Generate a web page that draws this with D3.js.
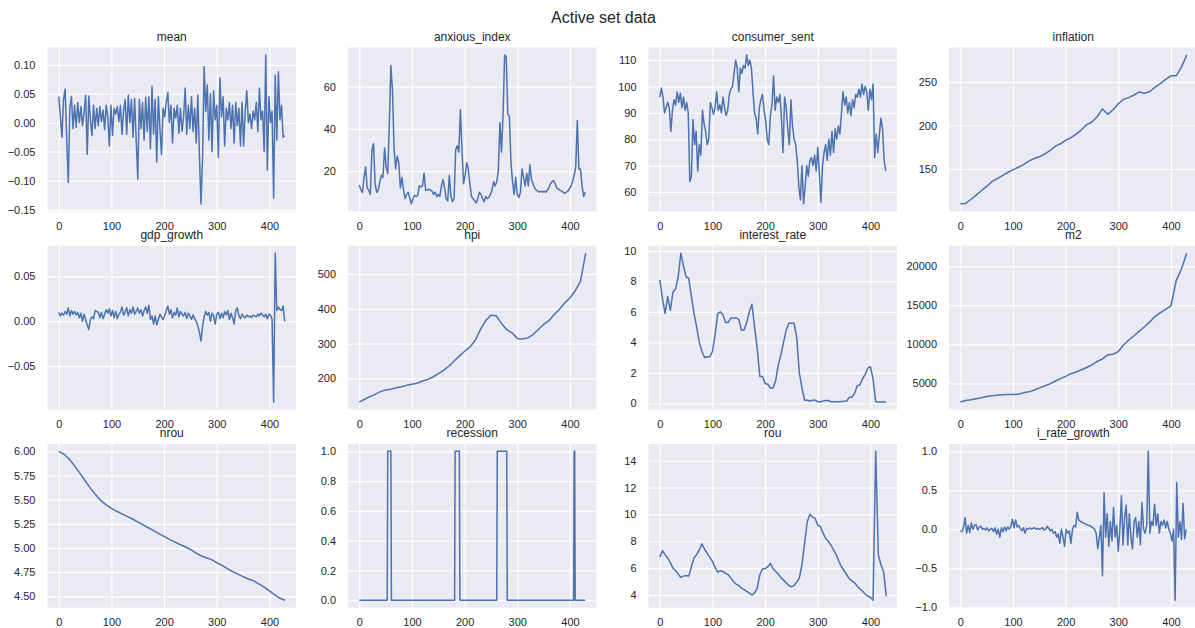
<!DOCTYPE html>
<html>
<head>
<meta charset="utf-8">
<script src="https://cdn.jsdelivr.net/npm/d3@7"></script>
<style>
  body { margin: 0; background: white; }
  svg { display: block; font-family: "Liberation Sans", Arial, sans-serif; }
</style>
</head>
<body>
<svg id="chart" width="1195" height="628"></svg>
<script>
// monthly series, 430 points (0..429); at a fixed step
const N_POINTS = 430;
const X_TICKS = [0, 100, 200, 300, 400];

// every 3rd point
const MEAN = [
  0.045, 0.010, -0.025, 0.040, 0.058, -0.028, -0.103, 0.025, 0.045, -0.010,
  0.030, -0.008, 0.035, 0.000, 0.028, -0.005, 0.018, 0.047, -0.055, 0.046,
  0.005, -0.022, 0.030, -0.010, 0.025, -0.005, 0.028, 0.002, 0.022, -0.012,
  0.030, 0.010, -0.040, 0.030, -0.022, 0.025, 0.015, 0.028, 0.002, 0.030,
  -0.020, 0.020, 0.040, -0.020, 0.048, 0.000, 0.040, -0.025, 0.042, -0.030,
  -0.097, 0.040, -0.010, 0.035, -0.030, 0.044, -0.015, 0.045, -0.045, 0.063,
  -0.020, 0.040, -0.068, 0.045, -0.010, -0.055, 0.025, 0.010, 0.035, 0.052,
  0.000, 0.030, -0.035, 0.025, 0.008, 0.030, -0.018, 0.025, -0.015, 0.010,
  0.060, -0.020, 0.030, -0.010, 0.045, -0.015, 0.025, -0.035, 0.048, -0.055,
  -0.140, -0.060, 0.097, 0.020, 0.065, -0.030, 0.050, -0.050, 0.055, 0.005,
  0.030, -0.060, 0.077, 0.010, 0.045, -0.040, 0.025, 0.005, 0.035, -0.010,
  0.030, -0.035, 0.035, -0.005, 0.025, -0.040, 0.035, -0.040, 0.020, 0.055,
  0.000, 0.015, -0.010, 0.020, 0.005, 0.035, -0.015, 0.060, 0.005, 0.020,
  -0.050, 0.117, -0.082, 0.045, 0.000, 0.020, -0.130, 0.082, -0.030, 0.088,
  0.005, 0.030, -0.025, -0.022
];

const ANXIOUS_INDEX = [
  13.5, 11, 10, 17, 22, 12, 11, 9, 30, 33,
  14, 10, 11, 15, 18, 17, 31, 22, 19, 42,
  70, 58, 31, 21, 27, 24, 12, 17, 11, 7,
  9, 10, 7, 4.5, 7, 8.5, 8, 8.5, 13, 12.5,
  13, 19, 11, 11, 11.5, 11, 10.5, 9, 10, 8,
  9, 8, 13, 16, 12, 7, 6, 18, 8, 5.5,
  7, 30, 32, 29, 49, 30, 14, 18, 24, 21,
  14, 8, 7, 6, 5, 7, 10, 9, 7, 5.5,
  8, 7, 7.5, 9, 11, 15, 13, 15, 20, 43,
  29, 47, 75, 74, 47, 46, 24, 15, 9, 17,
  9, 7.5, 10, 21, 17, 13, 19, 13, 23, 16,
  14, 12, 11, 10.5, 10, 10.5, 10, 10.5, 10, 11,
  12, 14, 15, 15.5, 14, 12, 11.5, 11, 10.5, 10,
  9.5, 10, 10.5, 11.5, 13, 15, 18, 22, 44, 21,
  21, 13, 8, 10
];

const CONSUMER_SENT = [
  96, 99.5, 96, 90, 92, 94, 92, 83, 91, 95,
  93, 98, 94, 97.5, 92, 96, 91, 94, 90, 64,
  66, 87.5, 78, 83, 68, 78, 74, 91, 86, 83,
  78, 80, 94, 92, 89.5, 92, 98, 91, 93, 90,
  96, 92, 89, 91, 97, 99, 100, 105, 110, 107,
  98, 107, 105, 108, 107, 112, 108, 110, 107, 98,
  90, 88, 82, 92, 95, 97, 91, 87, 80, 78,
  89, 93, 104, 91, 96, 94, 97, 88, 75, 96,
  92, 84, 78, 95, 85, 80, 78, 72, 62, 57,
  70, 55.5, 62, 70, 66, 72, 73, 70, 74, 68,
  77, 67, 56, 70, 75, 78, 72, 80, 74, 83,
  75, 84, 80, 85, 82, 90, 98, 93, 96, 90,
  94, 89, 95, 92, 97, 96, 99, 96, 101, 97,
  100, 98, 91, 99, 95, 101, 73, 82, 75, 82,
  88, 84, 72, 68
];

const GDP_GROWTH = [
  0.010, 0.006, 0.009, 0.007, 0.011, 0.008, 0.015, 0.006, 0.012, 0.008,
  0.011, 0.007, 0.010, 0.004, 0.009, 0.000, 0.008, 0.002, -0.004, -0.009,
  0.002, 0.005, 0.003, 0.012, 0.011, 0.010, 0.004, 0.010, 0.003, 0.008,
  0.013, 0.009, 0.014, 0.006, 0.012, 0.004, 0.011, 0.003, 0.008, 0.010,
  0.016, 0.007, 0.010, 0.015, 0.006, 0.013, 0.009, 0.016, 0.008, 0.011,
  0.015, 0.009, 0.013, 0.006, 0.012, 0.016, 0.009, 0.018, 0.002, 0.006,
  -0.003, 0.006, -0.004, 0.002, 0.008, 0.005, 0.002, 0.006, 0.012, 0.017,
  0.008, 0.013, 0.004, 0.010, 0.007, 0.015, 0.005, 0.011, 0.008, 0.006,
  0.010, 0.003, 0.009, 0.006, 0.002, 0.007, 0.003, 0.000, -0.005, -0.012,
  -0.022, -0.006, 0.005, 0.011, 0.007, 0.010, 0.000, 0.009, 0.006, -0.003,
  0.008, 0.010, 0.003, 0.009, 0.004, 0.011, 0.007, 0.012, 0.002, 0.009,
  0.004, -0.003, 0.012, 0.015, 0.006, 0.003, 0.008, 0.005, 0.004, 0.007,
  0.005, 0.006, 0.004, 0.007, 0.006, 0.005, 0.008, 0.006, 0.009, 0.007,
  0.005, 0.008, 0.003, 0.008, 0.007, 0.002, -0.090, 0.076, 0.012, 0.016,
  0.013, 0.012, 0.017, 0.000
];

const I_RATE_GROWTH = [
  -0.02, -0.03, 0.02, 0.15, -0.05, 0.05, -0.04, 0.08, 0.00, 0.05,
  0.06, -0.01, 0.03, 0.04, 0.00, 0.01, -0.01, 0.02, -0.02, 0.00,
  0.01, -0.03, 0.02, -0.06, 0.00, -0.10, 0.02, -0.03, 0.03, -0.02,
  0.03, 0.00, 0.04, 0.13, 0.02, 0.12, 0.03, 0.05, 0.01, -0.02,
  0.02, -0.05, 0.01, 0.00, 0.02, 0.00, 0.01, 0.02, 0.00, 0.01,
  0.00, 0.01, 0.02, -0.01, 0.00, 0.04, 0.01, -0.02, 0.00, -0.05,
  -0.03, -0.10, -0.06, -0.18, 0.00, -0.10, -0.22, 0.00, -0.05, -0.02,
  -0.18, 0.00, 0.05, 0.03, 0.22, 0.12, 0.10, 0.09, 0.08, 0.07,
  0.06, 0.05, 0.05, 0.03, 0.02, 0.00, -0.05, -0.25, -0.10, 0.05,
  -0.60, 0.47, -0.10, 0.20, -0.22, 0.10, -0.15, 0.28, -0.10, 0.05,
  -0.28, 0.00, 0.43, -0.20, 0.15, 0.31, -0.20, 0.20, -0.10, -0.25,
  0.10, 0.15, -0.10, 0.10, -0.20, 0.34, 0.00, -0.05, 0.05, 1.00,
  -0.05, 0.10, 0.05, 0.32, 0.05, 0.20, -0.05, 0.10, 0.05, 0.12,
  0.02, 0.10, 0.00, -0.05, -0.15, 0.00, -0.91, 0.60, -0.10, 0.10,
  -0.13, 0.33, -0.12, 0.00
];

// every 5th point
const INTEREST_RATE = [
  8.1, 6.9, 5.9, 7.0, 6.1, 7.3, 7.5, 8.3, 9.85, 9.0,
  8.3, 8.2, 7.0, 5.9, 5.0, 4.0, 3.4, 3.0, 3.05, 3.05,
  3.4, 4.5, 5.9, 6.0, 5.8, 5.3, 5.3, 5.6, 5.6, 5.6,
  5.5, 4.8, 4.8, 5.3, 6.0, 6.5, 5.0, 3.6, 1.75, 1.75,
  1.3, 1.25, 1.0, 1.0, 1.5, 2.5, 3.2, 4.0, 4.8, 5.25,
  5.25, 5.25, 4.3, 2.0, 1.0, 0.2, 0.2, 0.15, 0.2, 0.2,
  0.1, 0.1, 0.15, 0.18, 0.18, 0.1, 0.1, 0.1, 0.1, 0.12,
  0.13, 0.15, 0.4, 0.4, 0.65, 1.15, 1.2, 1.6, 1.9, 2.3,
  2.4, 1.6, 0.1, 0.08, 0.08, 0.08, 0.08
];

const ROU = [
  6.8, 7.3, 7.0, 6.75, 6.4, 6.0, 5.8, 5.55, 5.3, 5.4,
  5.45, 5.4, 6.1, 6.75, 7.0, 7.35, 7.8, 7.4, 7.1, 6.8,
  6.5, 6.05, 5.7, 5.8, 5.75, 5.6, 5.5, 5.25, 5.0, 4.8,
  4.7, 4.5, 4.4, 4.27, 4.15, 4.0, 4.15, 4.5, 5.5, 5.95,
  5.95, 6.1, 6.35, 5.95, 5.75, 5.55, 5.3, 5.1, 4.9, 4.7,
  4.6, 4.7, 4.95, 5.25, 6.25, 7.85, 9.45, 10.0, 9.8, 9.7,
  9.2, 9.1, 8.6, 8.2, 8.0, 7.7, 7.35, 7.0, 6.5, 6.1,
  5.8, 5.5, 5.2, 5.05, 4.9, 4.65, 4.45, 4.27, 4.07, 3.9,
  3.83, 3.6, 14.7, 7.0, 6.25, 5.75, 3.9
];

// every 10th point
const INFLATION = [
  110, 110.5, 115, 120, 125, 130, 135.5, 139, 142.5, 146,
  149, 152, 155, 159, 162, 164, 167, 171, 176, 179,
  183, 186, 190, 195, 201, 204, 210, 219, 213, 218,
  225, 230, 232, 235, 238.5, 237, 239, 244, 248, 253,
  257, 257, 267, 281
];

const HPI = [
  132, 140, 147.5, 154, 162, 166.5, 168.5, 173, 176, 180,
  183, 186, 192.5, 197, 204, 213.5, 223, 235, 250, 264,
  278, 290, 309, 340, 366, 381.5, 380, 358, 340, 331,
  315, 313.5, 316.5, 326, 340.5, 355, 366, 383.5, 398, 417,
  431, 452, 479, 560
];

const M2 = [
  2590, 2800, 2880, 3010, 3140, 3300, 3390, 3475, 3520, 3560,
  3560, 3600, 3770, 3900, 4110, 4410, 4660, 4920, 5260, 5600,
  5890, 6230, 6440, 6740, 7030, 7370, 7800, 8140, 8650, 8730,
  9070, 9920, 10550, 11100, 11700, 12250, 12880, 13600, 14070, 14490,
  14920, 18180, 19660, 21700
];

const NROU = [
  6.0, 5.97, 5.918, 5.85, 5.775, 5.696, 5.62, 5.55, 5.49, 5.446,
  5.41, 5.38, 5.354, 5.327, 5.30, 5.27, 5.24, 5.21, 5.18, 5.15,
  5.12, 5.09, 5.064, 5.037, 5.013, 4.985, 4.95, 4.92, 4.90, 4.88,
  4.85, 4.82, 4.787, 4.756, 4.73, 4.705, 4.68, 4.66, 4.63, 4.596,
  4.558, 4.517, 4.48, 4.46
];

// recession months (first, last)
const RECESSION_PERIODS = [[54, 60], [182, 190], [262, 280], [408, 409]];

const MEAN_TICKS = [-0.15, -0.10, -0.05, 0.00, 0.05, 0.10];
const ANXIOUS_TICKS = [20, 40, 60];
const CONSUMER_TICKS = [60, 70, 80, 90, 100, 110];
const INFLATION_TICKS = [150, 200, 250];
const GDP_TICKS = [-0.05, 0.00, 0.05];
const HPI_TICKS = [200, 300, 400, 500];
const INTEREST_TICKS = [0, 2, 4, 6, 8, 10];
const M2_TICKS = [5000, 10000, 15000, 20000];
const NROU_TICKS = [4.50, 4.75, 5.00, 5.25, 5.50, 5.75, 6.00];
const RECESSION_TICKS = [0.0, 0.2, 0.4, 0.6, 0.8, 1.0];
const ROU_TICKS = [4, 6, 8, 10, 12, 14];
const I_RATE_TICKS = [-1.0, -0.5, 0.0, 0.5, 1.0];

var recession = d3.range(N_POINTS).map(function(i) {
  return RECESSION_PERIODS.some(function(p) { return i >= p[0] && i <= p[1]; }) ? 1 : 0;
});

var panels = [
  {title: "mean", values: MEAN, step: 3, ticks: MEAN_TICKS, fmt: ".2f"},
  {title: "anxious_index", values: ANXIOUS_INDEX, step: 3, ticks: ANXIOUS_TICKS, fmt: "d"},
  {title: "consumer_sent", values: CONSUMER_SENT, step: 3, ticks: CONSUMER_TICKS, fmt: "d"},
  {title: "inflation", values: INFLATION, step: 10, ticks: INFLATION_TICKS, fmt: "d"},
  {title: "gdp_growth", values: GDP_GROWTH, step: 3, ticks: GDP_TICKS, fmt: ".2f"},
  {title: "hpi", values: HPI, step: 10, ticks: HPI_TICKS, fmt: "d"},
  {title: "interest_rate", values: INTEREST_RATE, step: 5, ticks: INTEREST_TICKS, fmt: "d"},
  {title: "m2", values: M2, step: 10, ticks: M2_TICKS, fmt: "d"},
  {title: "nrou", values: NROU, step: 10, ticks: NROU_TICKS, fmt: ".2f"},
  {title: "recession", values: recession, step: 1, ticks: RECESSION_TICKS, fmt: ".1f"},
  {title: "rou", values: ROU, step: 5, ticks: ROU_TICKS, fmt: "d"},
  {title: "i_rate_growth", values: I_RATE_GROWTH, step: 3, ticks: I_RATE_TICKS, fmt: ".1f"}
];

var svg = d3.select("#chart");

var margin = {left: 47.5, top: 47.5};
var colStep = 300.5, rowStep = 198.2;
var plotW = 248.5, plotH = 163.8;

svg.append("text")
  .attr("x", 603.5)
  .attr("y", 22.5)
  .attr("text-anchor", "middle")
  .style("font-size", "16px")
  .style("fill", "#262626")
  .text("Active set data");

function drawPanel(p, k)
{
  var left = margin.left + (k % 4) * colStep;
  var top = margin.top + Math.floor(k / 4) * rowStep;

  var pts = p.values.map(function(v, i) { return [i * p.step, v]; });
  var ext = d3.extent(pts, function(d) { return d[1]; });
  var pad = (ext[1] - ext[0]) * 0.05;
  var last = N_POINTS - 1;

  var x = d3.scaleLinear()
    .domain([-0.05 * last, last * 1.05])
    .range([left, left + plotW]);
  var y = d3.scaleLinear()
    .domain([ext[0] - pad, ext[1] + pad])
    .range([top + plotH, top]);

  var g = svg.append("g");

  g.append("rect")
    .attr("x", left)
    .attr("y", top)
    .attr("width", plotW)
    .attr("height", plotH)
    .attr("fill", "#eaeaf2");

  var yAxis = g.append("g")
    .attr("transform", "translate(" + left + ",0)")
    .call(d3.axisLeft(y)
      .tickValues(p.ticks)
      .tickFormat(d3.format(p.fmt))
      .tickSize(-plotW)
      .tickPadding(12));

  var xAxis = g.append("g")
    .attr("transform", "translate(0," + (top + plotH) + ")")
    .call(d3.axisBottom(x)
      .tickValues(X_TICKS)
      .tickSize(-plotH)
      .tickPadding(11));

  [xAxis, yAxis].forEach(function(a) {
    a.select(".domain").remove();
    a.selectAll(".tick line")
      .attr("stroke", "white")
      .attr("stroke-width", 1.2);
    a.selectAll(".tick text")
      .attr("fill", "#262626")
      .style("font-family", "\"Liberation Sans\", Arial, sans-serif")
      .style("font-size", "11px");
  });

  g.append("path")
    .datum(pts)
    .attr("fill", "none")
    .attr("stroke", "#4c72b0")
    .attr("stroke-width", 1.5)
    .attr("stroke-linejoin", "round")
    .attr("d", d3.line()
      .x(function(d) { return x(d[0]); })
      .y(function(d) { return y(d[1]); }));

  g.append("text")
    .attr("x", left + plotW / 2)
    .attr("y", top - 7)
    .attr("text-anchor", "middle")
    .style("font-size", "12px")
    .style("fill", "#262626")
    .text(p.title);
}

panels.forEach(drawPanel);
</script>
</body>
</html>
